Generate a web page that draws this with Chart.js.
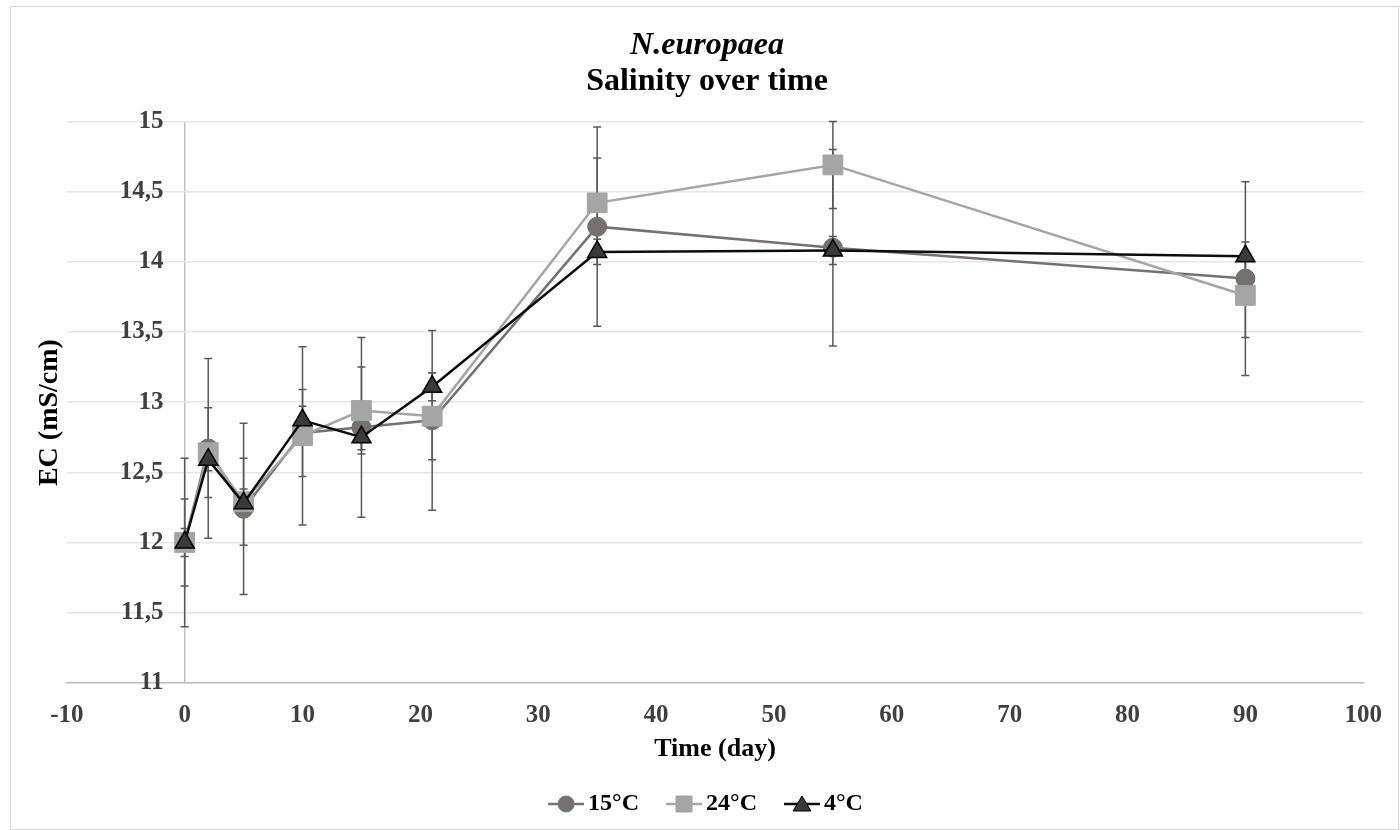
<!DOCTYPE html>
<html>
<head>
<meta charset="utf-8">
<title>N.europaea - Salinity over time</title>
<script src="https://cdn.jsdelivr.net/npm/chart.js@4.4.1/dist/chart.umd.min.js"></script>
<style>
  html, body { margin: 0; padding: 0; background: #fff; }
  #wrap { width: 1400px; height: 830px; }
</style>
</head>
<body>
<div id="wrap"><canvas id="chart" width="1400" height="830"></canvas></div>
<script>
// sampling days
const days = [0, 2, 5, 10, 15, 21, 35, 55, 90];

// mean EC (mS/cm) per temperature
const ec15 = [12.0, 12.67, 12.24, 12.78, 12.82, 12.87, 14.25, 14.10, 13.88];
const ec24 = [12.0, 12.64, 12.29, 12.76, 12.94, 12.90, 14.42, 14.69, 13.76];
const ec4  = [12.0, 12.59, 12.28, 12.87, 12.75, 13.11, 14.07, 14.08, 14.04];

// standard deviations (error bars)
const sd15 = [0.60, 0.64, 0.61, 0.31, 0.64, 0.64, 0.71, 0.70, 0.69];
const sd24 = [0.31, 0.32, 0.31, 0.635, 0.31, 0.31, 0.32, 0.31, 0.30];
const sd4  = [0.10, 0.08, 0.10, 0.10, 0.09, 0.10, 0.09, 0.10, 0.10];

const seriesNames = ['15°C', '24°C', '4°C'];

// axis ranges
const X_MIN = -10, X_MAX = 100, X_STEP = 10;
const Y_MIN = 11, Y_MAX = 15, Y_STEP = 0.5;
const Y_CROSS = 0;          // value axis crosses at day 0
const Y_LABEL_AT = -1.8;    // tick labels end just left of the crossing

const FONT = "'Liberation Serif', 'Times New Roman', serif";
const TICK_COLOR = '#404040';
const AXIS_COLOR = '#bfbfbf';

function toPoints(ys) {
  return days.map((d, i) => ({ x: d, y: ys[i] }));
}

/**
 * Small legend glyph: a line with the series marker on it.
 */
function legendIcon(lineColor, marker, fill, stroke) {
  const c = document.createElement('canvas');
  c.width = 41;
  c.height = 24;
  const g = c.getContext('2d');
  const cx = 23, cy = 12;
  g.strokeStyle = lineColor;
  g.lineWidth = 2.5;
  g.beginPath();
  g.moveTo(5, cy);
  g.lineTo(41, cy);
  g.stroke();
  g.fillStyle = fill;
  g.strokeStyle = stroke;
  g.lineWidth = 1;
  g.beginPath();
  if (marker === 'circle') {
    g.arc(cx, cy, 8, 0, Math.PI * 2);
  } else if (marker === 'rect') {
    g.rect(cx - 8, cy - 8, 16, 16);
  } else {
    g.moveTo(cx, cy - 8);
    g.lineTo(cx + 9, cy + 7);
    g.lineTo(cx - 9, cy + 7);
    g.closePath();
  }
  g.fill();
  g.stroke();
  return c;
}

const sdBySeries = [sd15, sd24, sd4];

// error bars drawn under the markers
const errorBars = {
  id: 'errorBars',
  beforeDatasetsDraw(chart) {
    const { ctx } = chart;
    const yScale = chart.scales.y;
    ctx.save();
    ctx.strokeStyle = '#595959';
    ctx.lineWidth = 1.5;
    chart.data.datasets.forEach((ds, di) => {
      const meta = chart.getDatasetMeta(di);
      const sd = sdBySeries[di];
      meta.data.forEach((pt, i) => {
        const v = ds.data[i].y;
        const top = yScale.getPixelForValue(v + sd[i]);
        const bot = yScale.getPixelForValue(v - sd[i]);
        const x = pt.x;
        ctx.beginPath();
        ctx.moveTo(x, top);
        ctx.lineTo(x, bot);
        ctx.moveTo(x - 4, top);
        ctx.lineTo(x + 4, top);
        ctx.moveTo(x - 4, bot);
        ctx.lineTo(x + 4, bot);
        ctx.stroke();
      });
    });
    ctx.restore();
  }
};

// white background and thin outer frame
const frame = {
  id: 'frame',
  beforeDraw(chart) {
    const { ctx, width, height } = chart;
    ctx.save();
    ctx.fillStyle = '#ffffff';
    ctx.fillRect(0, 0, width, height);
    ctx.strokeStyle = '#d9d9d9';
    ctx.lineWidth = 1;
    ctx.strokeRect(10.5, 6.5, width - 12, height - 7);
    ctx.restore();
  }
};

const icons = [
  legendIcon('#767171', 'circle', '#767171', '#767171'),
  legendIcon('#a5a5a5', 'rect', '#a5a5a5', '#a5a5a5'),
  legendIcon('#0d0d0d', 'triangle', '#3a3a3a', '#000000')
];

new Chart(document.getElementById('chart').getContext('2d'), {
  type: 'line',
  data: {
    datasets: [
      {
        label: seriesNames[0],
        data: toPoints(ec15),
        borderColor: '#767171',
        backgroundColor: '#767171',
        pointBackgroundColor: '#767171',
        pointBorderColor: '#767171',
        pointStyle: 'circle',
        pointRadius: 9.5,
        borderWidth: 2.5,
        pointBorderWidth: 1,
        order: 2,
      },
      {
        label: seriesNames[1],
        data: toPoints(ec24),
        borderColor: '#a5a5a5',
        backgroundColor: '#a5a5a5',
        pointBackgroundColor: '#a5a5a5',
        pointBorderColor: '#a5a5a5',
        pointStyle: 'rect',
        pointRadius: 14,
        borderWidth: 2.5,
        pointBorderWidth: 1,
        order: 1,
      },
      {
        label: seriesNames[2],
        data: toPoints(ec4),
        borderColor: '#0d0d0d',
        backgroundColor: '#3a3a3a',
        pointBackgroundColor: '#3a3a3a',
        pointBorderColor: '#000000',
        pointStyle: 'triangle',
        pointRadius: 11,
        borderWidth: 2.5,
        pointBorderWidth: 1.5,
        order: 0,
      },
    ],
  },
  options: {
    responsive: false,
    animation: false,
    layout: {
      padding: { left: 48, right: 34, top: 0, bottom: 4 },
    },
    plugins: {
      tooltip: { enabled: false },
      title: {
        display: true,
        text: 'N.europaea',
        color: '#000000',
        font: { family: FONT, size: 32, weight: 'bold', style: 'italic', lineHeight: 1.1 },
        padding: { top: 28, bottom: 0 },
      },
      subtitle: {
        display: true,
        text: 'Salinity over time',
        color: '#000000',
        font: { family: FONT, size: 32, weight: 'bold', lineHeight: 1.1 },
        padding: { top: 1, bottom: 22 },
      },
      legend: {
        position: 'bottom',
        labels: {
          usePointStyle: true,
          pointStyleWidth: 25,
          padding: 30,
          color: '#000000',
          font: { family: FONT, size: 24, weight: 'bold' },
          generateLabels(chart) {
            return chart.data.datasets.map((ds, i) => ({
              text: ds.label,
              pointStyle: icons[i],
              fillStyle: ds.backgroundColor,
              strokeStyle: ds.borderColor,
              lineWidth: 0,
              hidden: false,
              datasetIndex: i,
              fontColor: '#000000',
            }));
          },
        },
      },
    },
    scales: {
      x: {
        type: 'linear',
        position: 'bottom',
        min: X_MIN,
        max: X_MAX,
        ticks: {
          stepSize: X_STEP,
          color: TICK_COLOR,
          font: { family: FONT, size: 25, weight: 'bold' },
          padding: 18,
          maxRotation: 0,
        },
        // only the day-0 line is drawn: it is the vertical value axis
        grid: {
          display: true,
          drawTicks: false,
          lineWidth: 1.5,
          color: (c) => (c.tick && c.tick.value === Y_CROSS ? AXIS_COLOR : 'rgba(0,0,0,0)'),
        },
        border: { display: true, color: AXIS_COLOR, width: 1.5 },
        title: {
          display: true,
          text: 'Time (day)',
          color: '#000000',
          font: { family: FONT, size: 26, weight: 'bold' },
          padding: { top: -15.4, bottom: -2.6 },
        },
      },
      y: {
        type: 'linear',
        position: { x: Y_LABEL_AT },
        min: Y_MIN,
        max: Y_MAX,
        ticks: {
          stepSize: Y_STEP,
          color: TICK_COLOR,
          font: { family: FONT, size: 25, weight: 'bold' },
          callback: (v) => String(v).replace('.', ','),
        },
        grid: { color: '#e6e6e6', lineWidth: 1.5, drawTicks: false },
        border: { display: false },
      },
      yTitle: {
        type: 'linear',
        axis: 'y',
        position: 'left',
        display: true,
        ticks: { display: false },
        grid: { display: false, drawTicks: false },
        border: { display: false },
        title: {
          display: true,
          text: 'EC (mS/cm)   ',
          color: '#000000',
          font: { family: FONT, size: 28, weight: 'bold', lineHeight: 1.2 },
          padding: { top: -14.8, bottom: 0 },
        },
      },
    },
  },
  plugins: [frame, errorBars],
});
</script>
</body>
</html>
